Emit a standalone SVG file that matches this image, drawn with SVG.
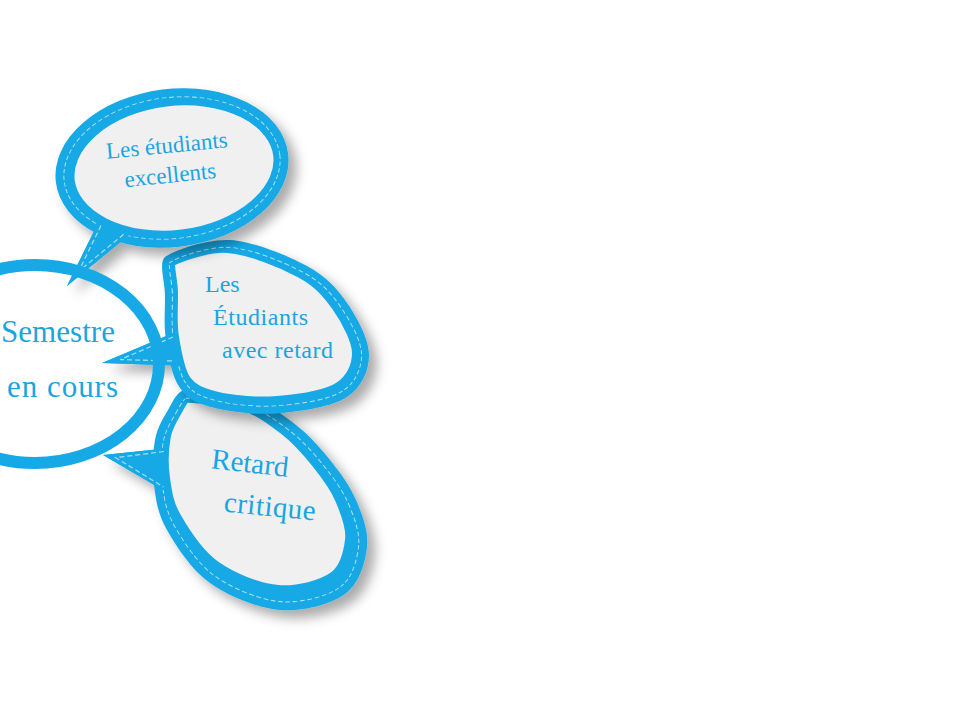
<svg xmlns="http://www.w3.org/2000/svg" xmlns:xlink="http://www.w3.org/1999/xlink" width="960" height="720" viewBox="0 0 960 720">
<defs>
<style>
.band{fill:#17a9e6}
.inner{fill:#f0f0f0}
.stw{fill:none;stroke:#a6dff6;stroke-dasharray:5 3}
.stitch{fill:none;stroke:#a6dff6;stroke-width:1.2;stroke-dasharray:5 3}
.lbl{font-family:"Liberation Serif","DejaVu Serif",serif;fill:#1aa5e1}
</style>
<filter id="sh" x="-15%" y="-15%" width="140%" height="140%">
<feGaussianBlur in="SourceAlpha" stdDeviation="6"/>
<feOffset dx="8" dy="8" result="b"/>
<feFlood flood-color="#000" flood-opacity="0.33"/>
<feComposite in2="b" operator="in"/>
<feMerge><feMergeNode/><feMergeNode in="SourceGraphic"/></feMerge>
</filter>
<ellipse id="o1" cx="172" cy="168" rx="117" ry="79" transform="rotate(-7 172 168)"/>
<path id="o2" d="M165,257 C171.5,251.5 206.3,238.5 230,240 C253.7,241.5 287.5,255.5 307,266 C326.5,276.5 336.7,288.2 347,303 C357.3,317.8 369,339.3 369,355 C369,370.7 361.8,387.3 347,397 C332.2,406.7 302,411.2 280,413 C258,414.8 231.7,412.2 215,408 C198.3,403.8 188.2,399.3 180,388 C171.8,376.7 168.5,355.5 166,340 C163.5,324.5 165.2,308.8 165,295 C164.8,281.2 158.5,262.5 165,257 Z"/>
<path id="o3" d="M185,390 C193.2,388.8 231.5,392.2 250,398 C268.5,403.8 282.7,414.7 296,425 C309.3,435.3 320,447.5 330,460 C340,472.5 349.8,485.5 356,500 C362.2,514.5 368.8,531.3 367,547 C365.2,562.7 359.5,583.5 345,594 C330.5,604.5 302.5,611.8 280,610 C257.5,608.2 228.8,596.3 210,583 C191.2,569.7 176.3,546.3 167,530 C157.7,513.7 156,500 154,485 C152,470 152.7,452.5 155,440 C157.3,427.5 163,418.3 168,410 C173,401.7 176.8,391.2 185,390 Z"/>
<clipPath id="c1"><use xlink:href="#o1"/></clipPath>
<clipPath id="c2"><use xlink:href="#o2"/></clipPath>
<clipPath id="c3"><use xlink:href="#o3"/></clipPath>
<mask id="s1" maskUnits="userSpaceOnUse" x="0" y="0" width="960" height="720">
<use xlink:href="#o1" fill="none" stroke="#fff" stroke-width="18.2"/>
<use xlink:href="#o1" fill="none" stroke="#000" stroke-width="15.8"/>
</mask>
<mask id="s2" maskUnits="userSpaceOnUse" x="0" y="0" width="960" height="720">
<use xlink:href="#o2" fill="none" stroke="#fff" stroke-width="16.2"/>
<use xlink:href="#o2" fill="none" stroke="#000" stroke-width="13.8"/>
</mask>
<mask id="s3" maskUnits="userSpaceOnUse" x="0" y="0" width="960" height="720">
<use xlink:href="#o3" fill="none" stroke="#fff" stroke-width="18.2"/>
<use xlink:href="#o3" fill="none" stroke="#000" stroke-width="15.8"/>
</mask>
<mask id="g1" maskUnits="userSpaceOnUse" x="0" y="0" width="960" height="720">
<use xlink:href="#o1" transform="translate(2,0)" fill="#fff" stroke="#000" stroke-width="34"/>
</mask>
<mask id="g2" maskUnits="userSpaceOnUse" x="0" y="0" width="960" height="720">
<use xlink:href="#o2" transform="translate(-2,-2)" fill="#fff" stroke="#000" stroke-width="30"/>
</mask>
<mask id="g3" maskUnits="userSpaceOnUse" x="0" y="0" width="960" height="720">
<use xlink:href="#o3" transform="translate(-3,-6)" fill="#fff" stroke="#000" stroke-width="38"/>
</mask>
</defs>
<rect width="960" height="720" fill="#ffffff"/>

<g id="node-retard-critique">
<g filter="url(#sh)">
<use xlink:href="#o3" class="band"/>
<polygon class="band" points="103,455 180,447 180,500"/>
</g>
<use xlink:href="#o3" class="stw" stroke-width="18.2" clip-path="url(#c3)" mask="url(#s3)"/>
<polygon class="band" points="103,455 180,447 180,500"/>
<polyline class="stitch" points="164,451.5 115.6,457.7 163.5,487"/>
<use xlink:href="#o3" class="inner" mask="url(#g3)"/>
<text class="lbl" x="249" y="472.5" text-anchor="middle" font-size="29" transform="rotate(6.4 249 472.5)">Retard</text>
<text class="lbl" x="269" y="516" text-anchor="middle" font-size="29" textLength="92" transform="rotate(5.5 269 516)">critique</text>
</g>

<g id="node-avec-retard">
<g filter="url(#sh)">
<use xlink:href="#o2" class="band"/>
<polygon class="band" points="102,363 190,326 190,366"/>
</g>
<use xlink:href="#o2" class="stw" stroke-width="16.2" clip-path="url(#c2)" mask="url(#s2)"/>
<polygon class="band" points="102,363 190,326 190,366"/>
<polyline class="stitch" points="173,337 120.3,359.6 175,361"/>
<use xlink:href="#o2" class="inner" mask="url(#g2)"/>
<text class="lbl" x="205" y="292" font-size="24">Les</text>
<text class="lbl" x="213" y="325" font-size="24" textLength="95">Étudiants</text>
<text class="lbl" x="222" y="358" font-size="24" textLength="111">avec retard</text>
</g>

<g id="node-excellents">
<g filter="url(#sh)">
<use xlink:href="#o1" class="band"/>
<polygon class="band" points="67,286 101,217 140,226"/>
</g>
<use xlink:href="#o1" class="stw" stroke-width="18.2" clip-path="url(#c1)" mask="url(#s1)"/>
<polygon class="band" points="67,286 101,217 140,226"/>
<polyline class="stitch" points="101,225.5 78.7,271.2 126,232.4"/>
<use xlink:href="#o1" class="inner" mask="url(#g1)"/>
<text class="lbl" x="167.5" y="153" text-anchor="middle" font-size="23" transform="rotate(-5.5 167.5 153)">Les étudiants</text>
<text class="lbl" x="171" y="182.5" text-anchor="middle" font-size="23" transform="rotate(-5.8 171 182.5)">excellents</text>
</g>

<g id="node-semestre">
<ellipse cx="35" cy="364" rx="124" ry="99" fill="none" stroke="#17a9e6" stroke-width="12"/>
<text class="lbl" x="1" y="342" font-size="31" textLength="114">Semestre</text>
<text class="lbl" x="7" y="397" font-size="31" textLength="111">en cours</text>
</g>

<g id="connectors"/>
</svg>
